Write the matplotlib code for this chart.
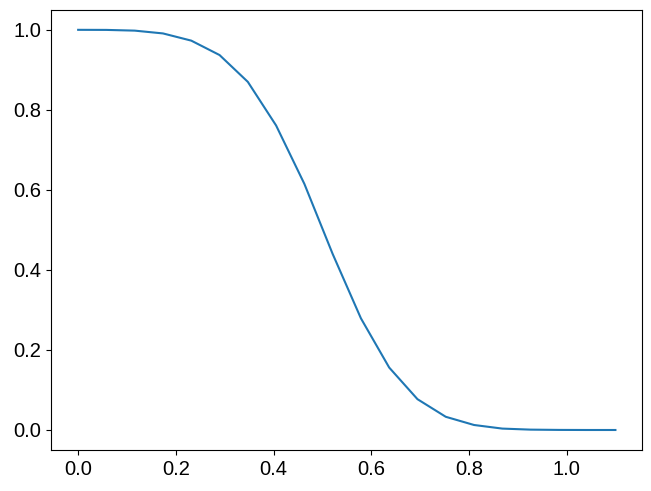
import numpy as np
import matplotlib
matplotlib.use("Agg")
import matplotlib.pyplot as plt

# values
x_values = np.linspace(0, 1.1, 20)
y_values = [1.0, 0.9998, 0.998, 0.991, 0.973, 0.937, 0.870, 0.761, 0.615, 0.440,
            0.279, 0.156, 0.077, 0.033, 0.0125, 0.0035, 0.0009, 0.0002, 0.0, 0.0]

plt.rcParams['font.family'] = ['Liberation Sans', 'DejaVu Sans']
plt.rcParams['font.size'] = 14.5

fig = plt.figure(figsize=(6.51, 4.91), dpi=100)
ax = fig.add_axes([0.0788, 0.0835, 0.9078, 0.8965])
ax.plot(x_values, y_values, color='#1f77b4', linewidth=1.5)
ax.set_xticks([0.0, 0.2, 0.4, 0.6, 0.8, 1.0])
ax.set_yticks([0.0, 0.2, 0.4, 0.6, 0.8, 1.0])
ax.tick_params(labelsize=14.5)

fig.savefig("out.png", dpi=100)
